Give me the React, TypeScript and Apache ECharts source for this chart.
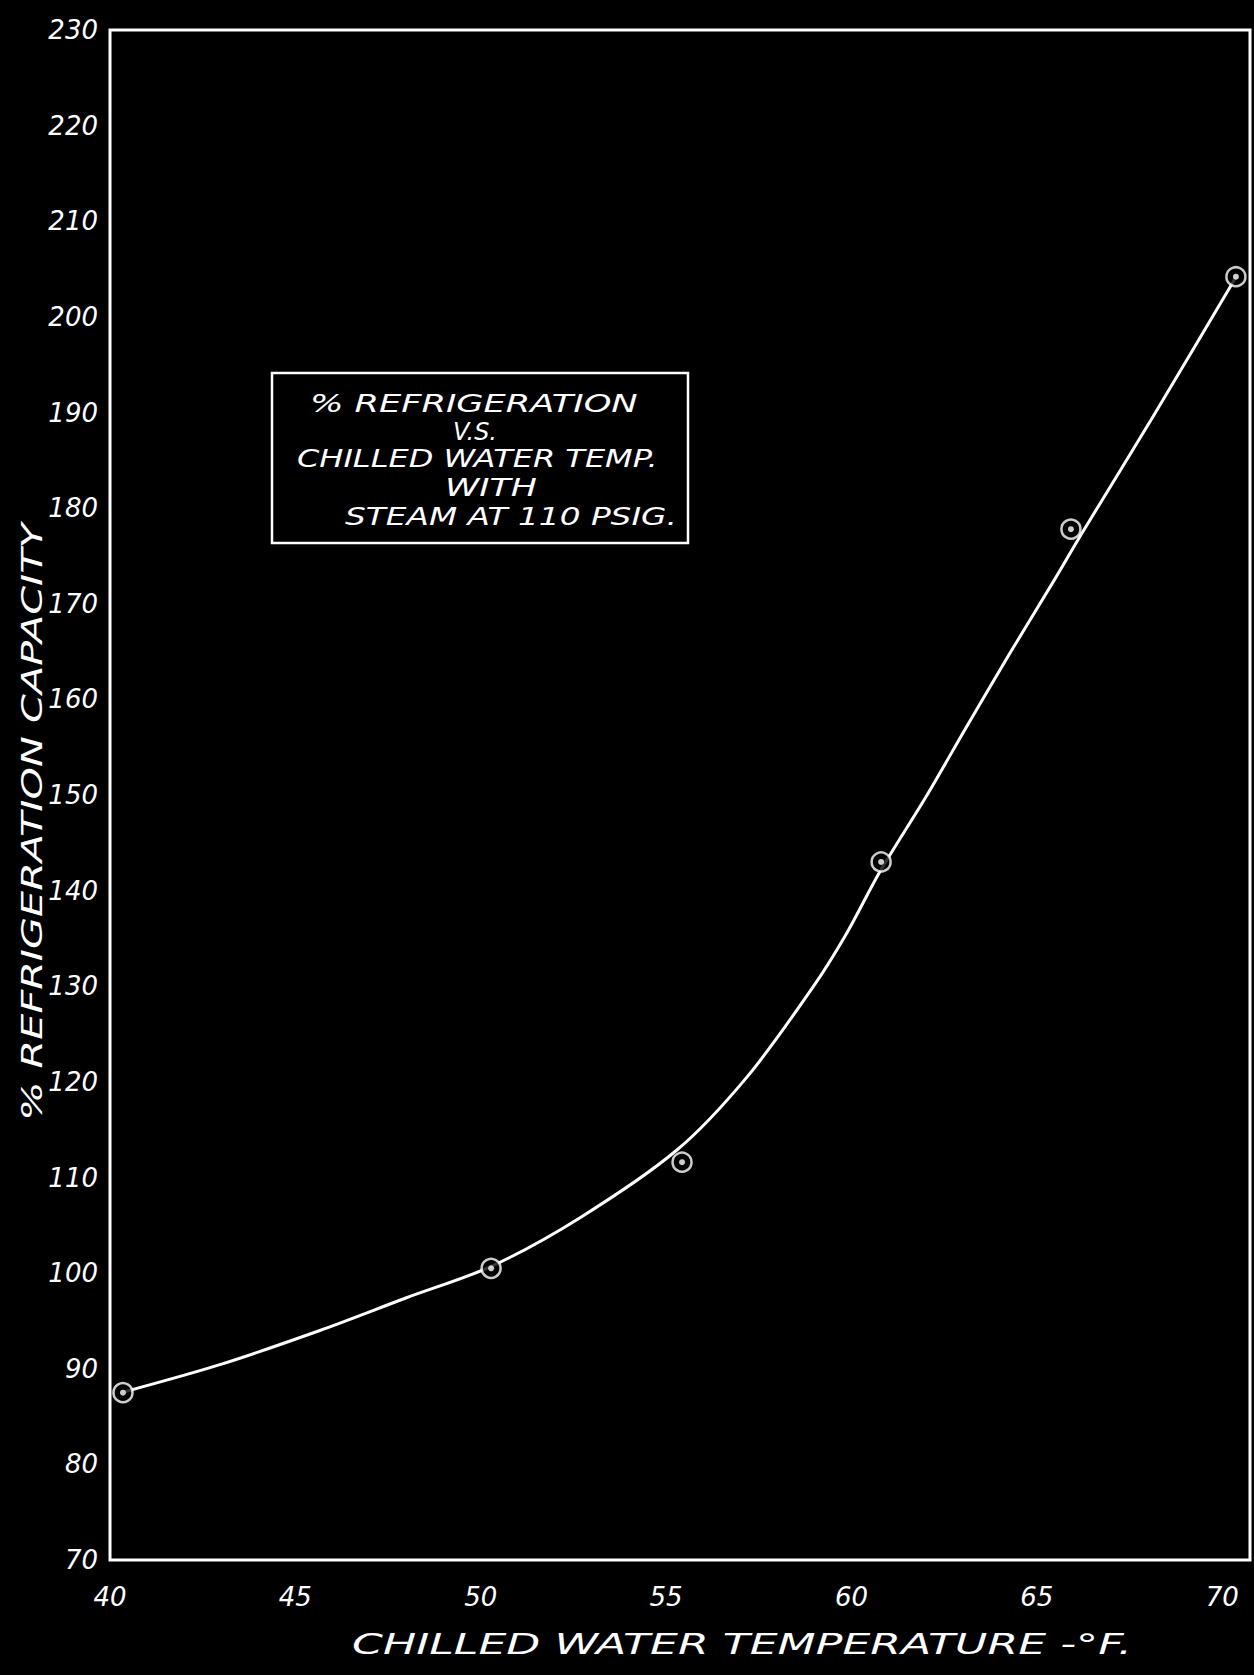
import React, { useEffect, useRef } from "react";
import * as echarts from "echarts";

// ---------------- data ----------------
const yMin = 70;
const yMax = 230;
const yStep = 10;
const xMin = 40;
const xMax = 70.75;
const xStep = 5;
const xTickLabels = ["40", "45", "50", "55", "60", "65", "70"];

// plotted test points (chilled water temp °F, % refrigeration capacity)
const pointTemps = [40.35, 50.28, 55.43, 60.8, 65.92, 70.37];
const pointCapacity = [87.5, 100.5, 111.6, 143.0, 177.8, 204.2];

// hand-faired curve drawn through the points
const curveTemps = [40.4, 42.94, 45.66, 47.98, 50.28, 52.68, 55.3, 57.18, 58.96, 59.88, 60.77, 62.04, 63.07, 64.3, 65.49, 66.22, 68.14, 70.21, 70.37];
const curveCapacity = [87.6, 90.4, 94.0, 97.4, 100.7, 105.8, 112.9, 120.5, 129.9, 135.6, 142.0, 150.0, 156.9, 165.0, 172.6, 177.4, 189.6, 203.1, 204.2];

const boxLines = ["% REFRIGERATION", "V.S.", "CHILLED WATER TEMP.", "WITH", "STEAM AT 110 PSIG."];
const xAxisTitle = "CHILLED WATER TEMPERATURE -°F.";
const yAxisTitle = "% REFRIGERATION CAPACITY";

// ---------------- layout ----------------
const W = 1254;
const H = 1675;
const FONT = '"DejaVu Sans", "Liberation Sans", sans-serif';
const boxRect = { x: 272, y: 373, w: 416, h: 170 };
const boxLineLayout = [
  { x: 310, w: 328, y: 404 },
  { x: 453, w: 44, y: 432 },
  { x: 297, w: 361, y: 459 },
  { x: 445, w: 92, y: 488 },
  { x: 345, w: 332, y: 517 },
];

function measure(text: string, size: number): number {
  const c = document.createElement("canvas");
  const ctx = c.getContext("2d");
  if (!ctx) return text.length * size * 0.6;
  ctx.font = `italic ${size}px ${FONT}`;
  return ctx.measureText(text).width;
}

function stretchedText(text: string, size: number, x: number, y: number, targetW: number, align: string, rotation = 0) {
  const sx = targetW / measure(text, size);
  return {
    type: "text",
    x,
    y,
    rotation,
    scaleX: sx,
    scaleY: 1,
    silent: true,
    style: {
      text,
      fill: "#fff",
      fontSize: size,
      fontFamily: FONT,
      fontStyle: "italic",
      align,
      textAlign: align,
      verticalAlign: "middle",
      textVerticalAlign: "middle",
    },
  };
}

export default function App() {
  const ref = useRef<HTMLDivElement>(null);

  useEffect(() => {
    if (!ref.current) return;
    document.body.style.background = "#000";
    const chart = echarts.init(ref.current, undefined, { renderer: "svg" });

    const graphics: any[] = [
      {
        type: "rect",
        shape: { x: boxRect.x, y: boxRect.y, width: boxRect.w, height: boxRect.h },
        style: { fill: "none", stroke: "#fff", lineWidth: 2.5 },
        silent: true,
      },
      ...boxLines.map((t, i) =>
        stretchedText(t, 24, boxLineLayout[i].x, boxLineLayout[i].y, boxLineLayout[i].w, "left")
      ),
      stretchedText(xAxisTitle, 28, 742, 1645, 780, "center"),
      stretchedText(yAxisTitle, 28, 32, 822, 598, "center", Math.PI / 2),
    ];

    chart.setOption({
      animation: false,
      backgroundColor: "#000",
      grid: {
        left: 110,
        top: 30,
        width: 1140,
        height: 1530,
        show: true,
        borderColor: "#fff",
        borderWidth: 3,
        backgroundColor: "transparent",
      },
      xAxis: {
        type: "value",
        min: xMin,
        max: xMax,
        interval: xStep,
        axisLine: { show: false },
        axisTick: { show: false },
        splitLine: { show: false },
        axisLabel: {
          color: "#fff",
          fontFamily: FONT,
          fontStyle: "italic",
          fontSize: 26,
          margin: 24,
          showMaxLabel: true,
          formatter: (v: number) => {
            const s = String(v);
            return xTickLabels.indexOf(s) >= 0 ? s : "";
          },
        },
      },
      yAxis: {
        type: "value",
        min: yMin,
        max: yMax,
        interval: yStep,
        axisLine: { show: false },
        axisTick: { show: false },
        splitLine: { show: false },
        axisLabel: {
          color: "#fff",
          fontFamily: FONT,
          fontStyle: "italic",
          fontSize: 26,
          margin: 12,
        },
      },
      graphic: graphics,
      series: [
        {
          type: "line",
          data: curveTemps.map((t, i) => [t, curveCapacity[i]]),
          smooth: 0.3,
          showSymbol: false,
          symbol: "none",
          lineStyle: { color: "#fff", width: 3 },
          z: 2,
        },
        {
          type: "scatter",
          data: pointTemps.map((t, i) => [t, pointCapacity[i]]),
          symbol: "circle",
          symbolSize: 19,
          itemStyle: { color: "#000", borderColor: "#fff", borderWidth: 2.5 },
          z: 3,
        },
        {
          type: "scatter",
          data: pointTemps.map((t, i) => [t, pointCapacity[i]]),
          symbol: "circle",
          symbolSize: 6,
          itemStyle: { color: "#fff" },
          z: 4,
        },
      ],
    });

    return () => chart.dispose();
  }, []);

  return (
    <div
      ref={ref}
      style={{ position: "absolute", left: 0, top: 0, width: W, height: H, background: "#000" }}
    />
  );
}
